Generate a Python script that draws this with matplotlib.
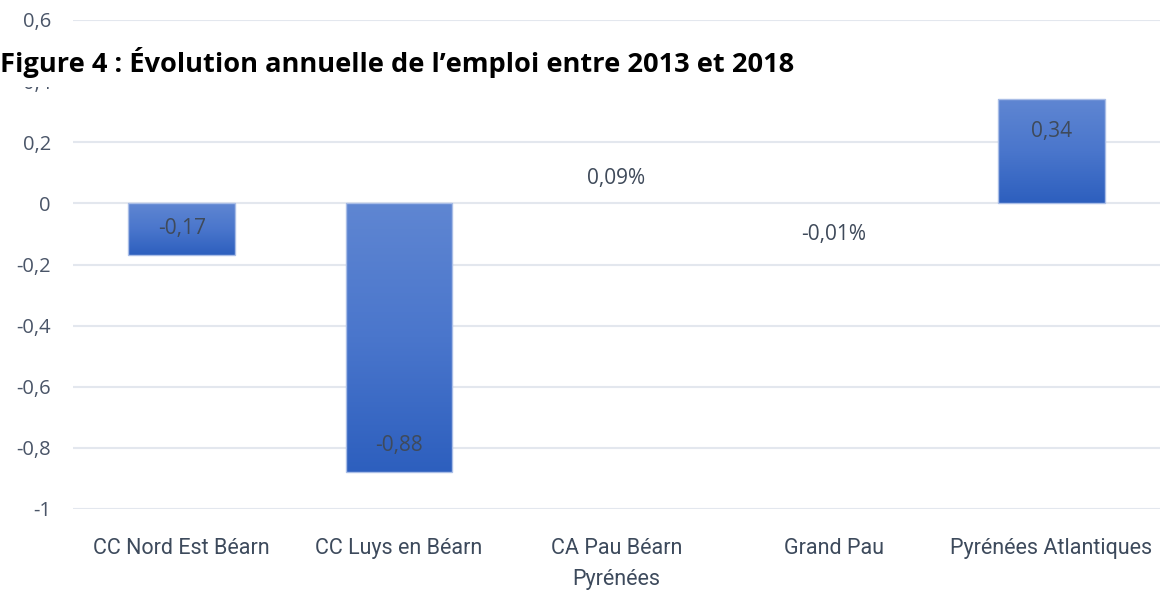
import matplotlib
matplotlib.use("Agg")
import matplotlib.pyplot as plt
import numpy as np
from matplotlib.colors import LinearSegmentedColormap

categories = ["CC Nord Est Béarn", "CC Luys en Béarn", "CA Pau Béarn\nPyrénées", "Grand Pau", "Pyrénées Atlantiques"]
values = [-0.17, -0.88, 0.09, -0.01, 0.34]
labels = ["-0,17", "-0,88", "0,09%", "-0,01%", "0,34"]
visible = [True, True, False, False, True]
yticks = [-1, -0.8, -0.6, -0.4, -0.2, 0, 0.2, 0.4, 0.6]
yticklabels = ["-1", "-0,8", "-0,6", "-0,4", "-0,2", "0", "0,2", "0,4", "0,6"]
title = "Figure 4 : Évolution annuelle de l’emploi entre 2013 et 2018"

fig = plt.figure(figsize=(11.64, 5.91), dpi=100)
ax = fig.add_axes([73/1164, 1-509/591, (1160-73)/1164, (509-20)/591])
for s in ax.spines.values():
    s.set_visible(False)
ax.set_yticks(yticks)
ax.set_yticklabels(yticklabels, fontsize=14.5, color="#4a5568", family="Open Sans")
ax.tick_params(axis="y", length=0, pad=16)
ax.tick_params(axis="x", length=0, pad=21)
ax.set_xticks(range(len(categories)))
ax.set_xticklabels(categories, fontsize=15.5, color="#3d4a5c", family="Roboto", linespacing=1.6)
ax.grid(axis="y", color="#e3e7ee", linewidth=1.5)
ax.set_axisbelow(True)

cmap = LinearSegmentedColormap.from_list("g", ["#2d5fbe", "#4a76cc", "#5f86d2"])
x = np.arange(len(categories))
bars = ax.bar(x, values, width=0.49, color="none", edgecolor="none", zorder=2)
for b, v, vis in zip(bars, values, visible):
    if not vis:
        continue
    x0 = b.get_x(); w = b.get_width()
    y0, y1 = min(0, v), max(0, v)
    grad = np.linspace(0, 1, 256).reshape(-1, 1)
    im = ax.imshow(grad, extent=[x0, x0+w, y0, y1], origin="lower", aspect="auto",
                   cmap=cmap, zorder=2)
    im.set_clip_path(b)
    ax.add_patch(plt.Rectangle((x0, y0), w, y1-y0, fill=False, edgecolor="#a9bde6", linewidth=1, zorder=3))
ax.set_xlim(-0.5, len(categories)-0.5)
ax.set_ylim(-1, 0.6)

offsets = [27, 27, -2, -28, 32]
for xi, v, lab, off in zip(x, values, labels, offsets):
    dy = -off if v > 0 else off
    if lab == "0,09%":
        dy = -3
    ax.annotate(lab, (xi, v), xytext=(0, dy), textcoords="offset pixels",
                ha="center", va="center", fontsize=15, color="#3f4a5a", family="Open Sans", zorder=4)

# white band behind the title covering the 0,4 grid line
fig.patches.append(plt.Rectangle((0, 1-87/591), 1, 49/591, transform=fig.transFigure,
                                 facecolor="white", edgecolor="none", zorder=5))
fig.text(0.0, 1-62/591, title, fontsize=19.6, fontweight="bold", family="Open Sans",
         va="center", ha="left", color="black", zorder=6)

fig.savefig("out.png", dpi=100)
